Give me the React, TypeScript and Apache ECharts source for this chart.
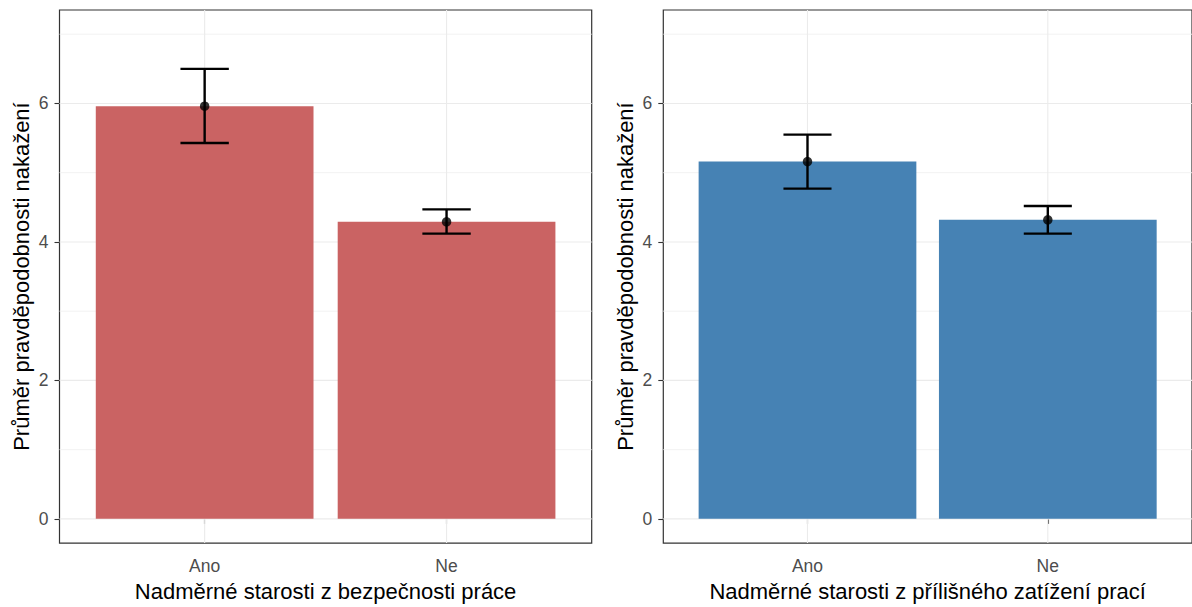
import React, { useEffect, useRef } from "react";
import * as echarts from "echarts";

// Categories and means with confidence limits for both panels
const categories = ["Ano", "Ne"];

const securityMeans = [5.96, 4.29];
const securityLower = [5.43, 4.12];
const securityUpper = [6.5, 4.47];

const workloadMeans = [5.16, 4.32];
const workloadLower = [4.77, 4.12];
const workloadUpper = [5.55, 4.52];

const yMajorTicks = [0, 2, 4, 6];
const yMinorTicks = [1, 3, 5, 7];

const yTitle = "Průměr pravděpodobnosti nakažení";
const securityTitle = "Nadměrné starosti z bezpečnosti práce";
const workloadTitle = "Nadměrné starosti z přílišného zatížení prací";

const securityColor = "#CA6363";
const workloadColor = "#4682B4";

const FONT = "Liberation Sans, Arial, sans-serif";
const X_MIN = 0.4;
const X_MAX = 2.6;
const Y_MIN = -0.35;
const Y_MAX = 7.35;

const GRID_TOP = 10;
const GRID_HEIGHT = 537.5;
const GRID_WIDTH = 532.2;
const GRID_LEFTS = [59.5, 663.3];

function buildPanelSeries(
  idx: number,
  means: number[],
  lower: number[],
  upper: number[],
  color: string
) {
  const unit = GRID_WIDTH / (X_MAX - X_MIN);
  const positions = categories.map((_, i) => i + 1);
  const gridItems = [
    ...yMajorTicks.map((v) => ({ value: [v, 1] })),
    ...yMinorTicks.map((v) => ({ value: [v, 0] })),
  ];
  return [
    {
      // horizontal panel grid lines
      type: "custom",
      xAxisIndex: idx,
      yAxisIndex: idx,
      z: 1,
      silent: true,
      data: gridItems,
      renderItem: (params: any, api: any) => {
        const cs = params.coordSys;
        const y = api.coord([1, api.value(0)])[1];
        return {
          type: "line",
          shape: { x1: cs.x, y1: y, x2: cs.x + cs.width, y2: y },
          style: {
            stroke: api.value(1) ? "#EBEBEB" : "#F0F0F0",
            lineWidth: api.value(1) ? 1.1 : 0.9,
          },
        };
      },
    },
    {
      // vertical grid lines at the categories
      type: "custom",
      xAxisIndex: idx,
      yAxisIndex: idx,
      z: 1,
      silent: true,
      data: positions.map((p) => [p]),
      renderItem: (params: any, api: any) => {
        const cs = params.coordSys;
        const x = api.coord([api.value(0), 0])[0];
        return {
          type: "line",
          shape: { x1: x, y1: cs.y, x2: x, y2: cs.y + cs.height },
          style: { stroke: "#EBEBEB", lineWidth: 1.1 },
        };
      },
    },
    {
      type: "bar",
      xAxisIndex: idx,
      yAxisIndex: idx,
      z: 2,
      barWidth: 0.9 * unit,
      itemStyle: { color },
      data: positions.map((p, i) => [p, means[i]]),
    },
    {
      // error bars
      type: "custom",
      xAxisIndex: idx,
      yAxisIndex: idx,
      z: 3,
      data: positions.map((p, i) => [p, lower[i], upper[i]]),
      renderItem: (params: any, api: any) => {
        const x = api.value(0);
        const top = api.coord([x, api.value(2)]);
        const bot = api.coord([x, api.value(1)]);
        const half = api.size([0.2, 0])[0] / 2;
        const style = { stroke: "#000", lineWidth: 2.4 };
        return {
          type: "group",
          children: [
            { type: "line", shape: { x1: top[0], y1: top[1], x2: bot[0], y2: bot[1] }, style },
            { type: "line", shape: { x1: top[0] - half, y1: top[1], x2: top[0] + half, y2: top[1] }, style },
            { type: "line", shape: { x1: bot[0] - half, y1: bot[1], x2: bot[0] + half, y2: bot[1] }, style },
          ],
        };
      },
    },
    {
      type: "scatter",
      xAxisIndex: idx,
      yAxisIndex: idx,
      z: 4,
      symbolSize: 9.5,
      itemStyle: { color: "#000" },
      data: positions.map((p, i) => [p, means[i]]),
    },
  ];
}

function xAxis(idx: number, title: string) {
  return {
    type: "value",
    gridIndex: idx,
    min: X_MIN,
    max: X_MAX,
    name: title,
    nameLocation: "middle",
    nameGap: 30,
    nameTextStyle: { color: "#000", fontSize: 22, fontFamily: FONT },
    axisLine: { show: false },
    axisTick: {
      show: true,
      customValues: categories.map((_, i) => i + 1),
      length: 5,
      lineStyle: { color: "#333", width: 1.1 },
    },
    axisLabel: {
      customValues: categories.map((_, i) => i + 1),
      formatter: (v: number) => categories[Math.round(v) - 1] ?? "",
      color: "#4D4D4D",
      fontSize: 17.5,
      fontFamily: FONT,
      margin: 14,
    },
    splitLine: { show: false },
  };
}

function yAxis(idx: number) {
  return {
    type: "value",
    gridIndex: idx,
    min: Y_MIN,
    max: Y_MAX,
    name: yTitle,
    nameLocation: "middle",
    nameGap: 27,
    nameTextStyle: { color: "#000", fontSize: 22, fontFamily: FONT },
    axisLine: { show: false },
    axisTick: {
      show: true,
      customValues: yMajorTicks,
      length: 5,
      lineStyle: { color: "#333", width: 1.1 },
    },
    axisLabel: {
      customValues: yMajorTicks,
      color: "#4D4D4D",
      fontSize: 17.5,
      fontFamily: FONT,
      margin: 11,
    },
    splitLine: { show: false },
  };
}

export default function App() {
  const ref = useRef<HTMLDivElement>(null);

  useEffect(() => {
    if (!ref.current) return;
    const chart = echarts.init(ref.current, null, { renderer: "svg" });
    chart.setOption({
      animation: false,
      backgroundColor: "#fff",
      grid: GRID_LEFTS.map((left) => ({
        left,
        top: GRID_TOP,
        width: GRID_WIDTH,
        height: GRID_HEIGHT,
        show: true,
        borderColor: "#333",
        borderWidth: 1.2,
        backgroundColor: "transparent",
      })),
      xAxis: [xAxis(0, securityTitle), xAxis(1, workloadTitle)],
      yAxis: [yAxis(0), yAxis(1)],
      series: [
        ...buildPanelSeries(0, securityMeans, securityLower, securityUpper, securityColor),
        ...buildPanelSeries(1, workloadMeans, workloadLower, workloadUpper, workloadColor),
      ],
    });
    return () => chart.dispose();
  }, []);

  return (
    <div
      ref={ref}
      style={{ position: "fixed", left: 0, top: 0, width: 1192, height: 607, background: "#fff" }}
    />
  );
}
